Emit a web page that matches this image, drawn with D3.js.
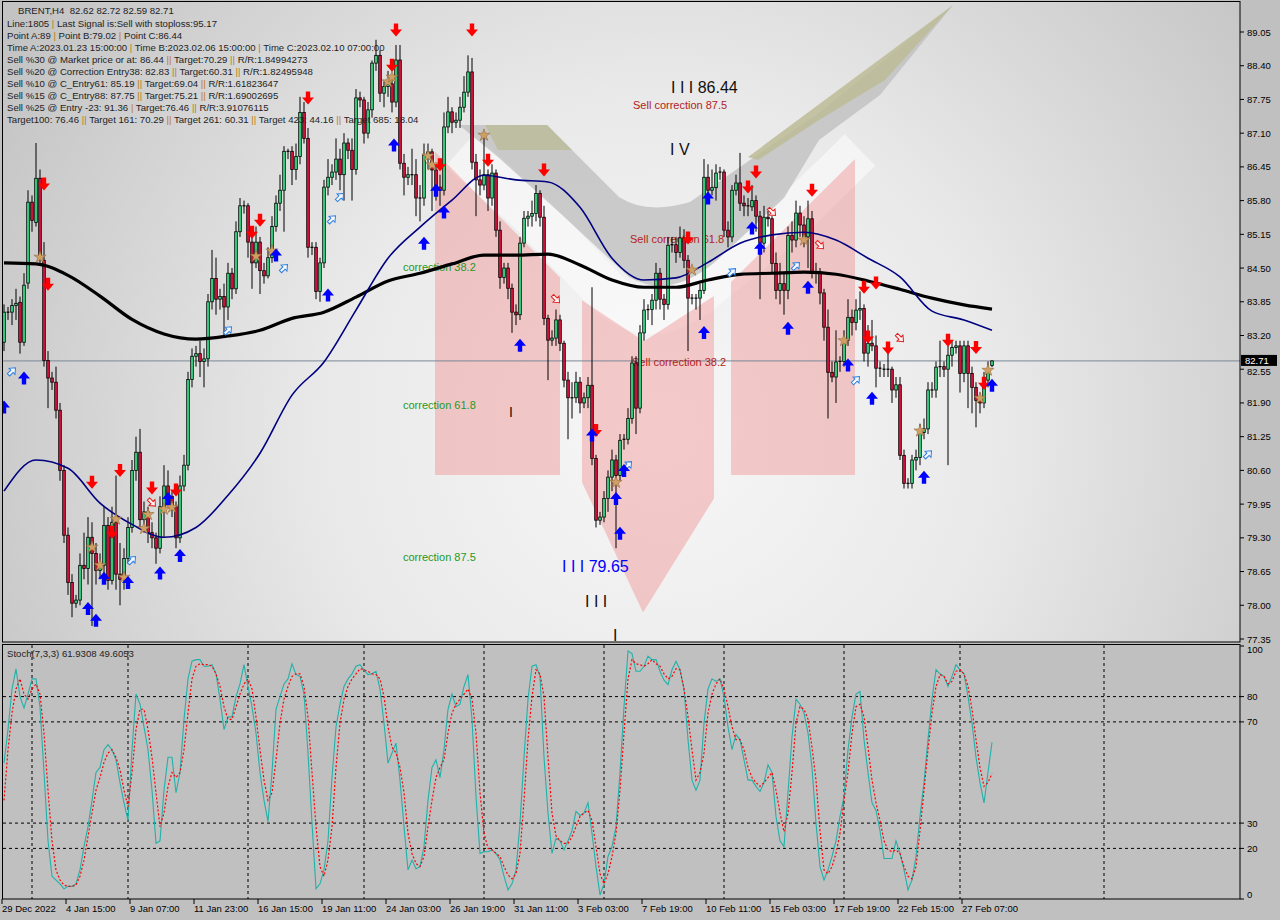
<!DOCTYPE html>
<html>
<head>
<meta charset="utf-8">
<script src="https://cdn.jsdelivr.net/npm/d3@7"></script>
<style>
html, body { margin: 0; padding: 0; background: #c0c0c0; }
svg { display: block; font-family: "Liberation Sans", Arial, sans-serif; }
text { white-space: pre; }
</style>
</head>
<body>
<svg id="chart" width="1280" height="920"></svg>
<script>
// ---- data (BRENT H4) ----
const opens = [83.07,83.65,83.65,83.78,83.84,83.07,84.21,85.77,85.38,86.23,84.65,82.72,82.38,82.30,81.76,80.60,79.35,78.44,78.04,78.10,
78.77,78.71,79.31,79.00,78.67,78.77,79.54,78.48,79.60,78.60,78.50,78.90,79.50,80.60,80.95,79.65,79.80,79.40,79.30,79.10,
79.90,80.30,80.10,79.90,79.30,80.30,80.70,82.35,82.80,82.85,82.70,82.75,83.85,84.30,83.90,83.95,83.75,84.40,84.10,85.20,
85.70,85.70,85.00,84.60,85.00,84.45,84.35,84.70,85.30,85.75,86.00,86.75,86.75,86.40,86.65,87.50,87.00,84.90,84.90,84.05,
84.60,86.06,86.25,86.35,86.60,86.30,86.91,86.77,86.40,87.78,87.74,87.10,87.55,88.45,88.60,87.87,88.00,88.05,87.70,88.51,
86.52,86.25,86.30,86.30,85.85,85.85,86.68,86.74,86.39,86.06,86.00,87.22,87.51,87.31,87.35,87.60,87.89,88.28,86.54,86.20,
86.10,86.30,85.85,86.33,85.23,84.32,84.50,84.11,83.65,83.60,84.98,85.46,85.50,85.55,85.94,85.48,83.53,83.11,83.15,83.50,
83.05,82.34,82.00,82.00,82.30,81.90,82.00,82.24,80.83,79.64,79.70,80.06,80.47,80.80,80.50,81.18,81.20,81.60,82.67,81.80,
83.25,83.69,83.70,83.88,84.40,83.90,83.80,84.94,84.95,84.80,85.08,84.65,83.92,83.90,83.92,84.07,86.25,86.00,86.05,86.33,
86.35,85.23,85.10,86.00,86.14,85.75,85.70,85.68,85.80,85.50,84.98,85.48,85.45,84.59,84.07,84.20,84.07,85.13,85.04,85.56,
85.33,85.10,85.45,84.40,84.40,84.02,83.36,82.49,82.40,82.69,82.70,83.11,83.55,83.45,83.69,83.72,82.86,83.05,83.00,82.57,
82.55,82.55,82.55,82.15,82.25,80.89,80.35,80.35,80.80,80.85,81.33,81.40,82.15,82.15,82.59,82.60,82.55,82.82,82.97,83.00,
82.47,83.00,82.47,82.20,81.95,81.90,82.34,82.62];

const highs = [83.80,83.75,83.90,84.10,83.95,84.40,86.00,85.90,86.91,86.40,85.00,82.90,82.50,82.60,81.90,80.70,79.50,78.60,78.20,79.00,
79.40,79.70,79.60,79.20,79.00,79.90,79.70,79.90,80.50,79.20,79.10,79.70,80.80,81.25,81.40,80.00,79.90,79.60,79.40,80.10,
80.70,80.60,80.20,80.00,80.50,80.90,82.50,82.95,83.00,83.10,82.95,84.00,84.85,84.70,84.10,84.20,84.60,84.50,85.40,85.85,
85.80,85.75,85.20,85.30,85.10,84.60,84.90,85.50,85.90,86.30,86.85,86.80,86.85,86.90,87.80,87.70,87.20,85.00,85.00,84.70,
86.20,86.60,86.50,87.00,86.80,87.10,87.00,87.00,87.95,87.90,87.80,87.70,88.50,88.90,88.70,88.10,88.30,88.20,88.80,88.80,
86.70,86.45,86.80,86.60,86.10,86.90,86.90,86.80,86.50,86.30,87.50,87.80,87.60,87.50,87.80,88.20,88.60,88.55,86.70,86.40,
87.05,86.40,86.50,86.40,85.40,84.60,84.60,84.20,83.80,85.10,85.60,85.60,85.80,86.10,86.00,85.70,83.60,83.30,83.70,83.60,
83.10,82.50,82.30,82.50,82.40,82.10,82.40,84.13,80.90,79.80,80.20,80.60,81.00,80.90,81.30,81.30,81.80,82.80,82.80,83.40,
83.90,83.80,84.00,84.60,84.50,84.00,85.10,85.10,85.10,85.30,85.25,84.75,84.00,84.00,84.20,86.60,86.50,86.40,86.50,86.45,
86.40,85.40,86.10,86.30,86.72,85.90,85.85,86.10,85.90,85.60,85.70,85.60,85.50,84.80,84.60,84.40,85.30,85.40,85.80,85.70,
85.50,85.80,85.60,84.60,84.50,84.10,83.70,82.70,83.30,82.80,83.30,83.90,83.70,83.90,84.05,83.80,83.40,83.50,83.20,82.70,
82.65,82.90,82.60,82.40,82.40,81.00,80.45,80.90,81.00,81.50,81.60,82.30,82.30,82.70,83.10,82.70,83.00,83.10,83.10,83.10,
83.10,83.10,82.60,82.30,82.10,82.50,82.70,82.72];

const lows = [82.90,83.50,83.40,83.50,82.85,83.00,84.10,85.20,85.30,84.60,82.60,81.80,82.15,81.60,80.40,79.20,78.20,77.77,77.95,78.00,
78.50,78.40,77.60,78.40,78.50,78.60,78.30,78.40,78.30,78.00,78.30,78.80,79.40,80.40,79.50,79.40,79.20,79.10,78.80,79.00,
79.30,79.90,79.70,79.10,79.20,80.20,80.60,82.20,82.60,82.40,82.20,82.60,83.70,83.60,83.70,83.20,83.50,83.90,84.00,85.10,
85.55,84.70,84.10,84.50,84.00,84.20,84.30,84.60,85.20,85.60,85.20,86.60,86.10,86.20,86.50,86.90,84.70,84.75,83.90,83.85,
84.50,85.90,86.10,86.20,86.00,85.80,86.60,85.80,86.30,87.60,86.90,87.00,87.40,88.30,87.70,87.60,87.80,87.50,87.60,86.40,
85.90,86.10,86.10,85.50,85.40,85.70,86.40,85.60,85.80,85.70,85.90,87.10,87.10,87.20,87.20,87.50,87.80,86.40,85.50,85.90,
86.00,85.60,85.70,85.10,84.10,84.20,83.90,83.25,83.40,83.50,84.90,85.30,85.30,85.40,85.30,83.40,82.34,83.00,83.00,82.90,
82.20,81.20,81.60,81.90,81.70,81.80,81.80,80.70,79.50,79.55,79.60,79.80,80.20,79.10,80.40,81.00,81.10,81.50,81.30,81.70,
83.10,83.50,83.40,83.70,83.70,83.50,83.70,84.80,84.60,84.70,84.50,82.90,83.80,83.70,83.50,84.00,85.90,85.90,85.80,86.20,
85.10,84.90,85.00,85.90,85.60,85.50,85.50,85.60,85.20,83.90,84.80,85.30,84.40,83.90,83.80,83.60,83.90,84.80,84.90,85.10,
84.90,84.50,84.30,84.20,83.80,83.10,81.60,82.30,81.90,82.50,82.60,83.00,83.20,83.30,83.50,82.70,82.60,82.90,82.20,82.40,
82.40,82.40,81.90,82.00,80.80,80.25,80.25,80.25,80.60,80.70,81.20,81.30,82.00,82.00,82.40,82.40,80.70,82.60,82.85,82.10,
82.30,81.80,81.70,81.43,81.70,81.80,82.20,82.59];

const closes = [83.65,83.65,83.78,83.82,83.07,84.17,85.77,85.42,86.23,84.71,82.72,82.38,82.30,81.76,80.60,79.35,78.44,78.04,78.10,78.77,
78.71,79.31,79.00,78.67,78.77,79.54,78.48,79.60,78.60,78.50,78.90,79.50,80.60,80.95,79.65,79.80,79.40,79.30,79.10,79.90,
80.30,80.10,79.90,79.30,80.30,80.70,82.35,82.80,82.85,82.70,82.75,83.85,84.30,83.90,83.95,83.75,84.40,84.10,85.20,85.70,
85.70,85.00,84.60,85.00,84.45,84.35,84.70,85.30,85.75,86.00,86.75,86.75,86.40,86.65,87.50,87.00,84.90,84.90,84.05,84.60,
86.06,86.25,86.35,86.60,86.30,86.91,86.77,86.40,87.78,87.74,87.10,87.55,88.45,88.60,87.87,88.00,88.05,87.70,88.51,86.52,
86.25,86.30,86.30,85.85,85.85,86.68,86.74,86.39,86.06,86.00,87.22,87.51,87.31,87.35,87.60,87.89,88.28,86.54,86.20,86.10,
86.30,85.85,86.33,85.23,84.32,84.50,84.11,83.65,83.60,84.98,85.46,85.50,85.55,85.94,85.48,83.53,83.11,83.15,83.50,83.05,
82.34,82.00,82.00,82.30,81.90,82.00,82.24,80.83,79.64,79.70,80.06,80.47,80.80,80.50,81.18,81.20,81.60,82.67,81.80,83.25,
83.69,83.70,83.88,84.40,83.90,83.80,84.94,84.95,84.80,85.08,84.65,83.92,83.90,83.92,84.07,86.25,86.00,86.05,86.33,86.35,
85.23,85.10,86.00,86.14,85.75,85.70,85.68,85.80,85.50,84.98,85.48,85.45,84.59,84.07,84.20,84.07,85.13,85.04,85.56,85.33,
85.10,85.45,84.40,84.40,84.02,83.36,82.49,82.40,82.69,82.70,83.11,83.55,83.45,83.69,83.72,82.86,83.05,83.00,82.57,82.55,
82.55,82.55,82.15,82.25,80.89,80.35,80.35,80.80,80.85,81.33,81.40,82.15,82.15,82.59,82.60,82.55,82.82,82.97,83.00,82.47,
83.00,82.47,82.20,81.95,81.90,82.34,82.53,82.71];

// moving averages, read every 8 bars
const maBars = [0,8,16,24,32,40,48,56,64,72,80,88,96,104,112,120,128,136,144,152,160,168,176,184,192,200,208,216,224,232,240,247];
const maFast = [80.20,80.80,80.64,79.97,79.56,79.31,79.50,80.12,80.93,82.05,82.69,83.69,84.69,85.29,85.81,86.29,86.20,86.16,85.67,84.69,
84.27,84.31,84.61,84.98,85.14,85.19,85.04,84.69,84.33,83.67,83.50,83.30];
const maSlow = [84.60,84.58,84.36,83.96,83.51,83.23,83.13,83.19,83.30,83.53,83.65,83.94,84.25,84.40,84.58,84.75,84.75,84.77,84.56,84.27,
84.13,84.13,84.27,84.38,84.40,84.42,84.38,84.25,84.09,83.92,83.79,83.71];

// Stochastic (7,3,3)
const stochK = [53.7,67,83,91,80,75.5,81,87,87,76,50,23,9,7.5,6,4,5,5,6,11.5,
20.7,28.6,39,50,52,59,61,59,55,46,38,31,59,81,77,68,59,43,22,23,
43,56,56,42,50,71,87,94,94.6,94.6,92,92,92.6,89,79,67,72,72,80,85,
92.6,84,76,65.6,50,39,30.6,50,75,80,85,87,93,88.7,88,81,57.7,30,4,6,
11.5,23,48,68,77,84,87,89,92,92.6,90.6,88.7,89,90,83,69.5,53.7,57.7,61.6,47,
28.6,11.5,15.4,12,12.8,20.7,39,52,55,48,59,75,81,76,77,84,88.7,71,40.5,18,
18.7,18.7,19.4,18,15.4,9,3.6,6,11.5,30,56,79,92,92.6,88,56,34,18,24,23,
19.4,23,27,34.6,33,34,38,26,12.8,1.6,6,16.8,20.7,28.6,50,76,98,97,90,90,
92,96,94.6,94.6,90,86.5,84.7,90.6,94,90.6,83,63,47,43,47,69.5,83,87,86,87,
80,68,59,65,63,55,47,47,44.5,42.5,46,53,50,32.6,23,20.7,42,64,79,77,
73.5,65.6,52,30,12.8,7.5,11.5,16.8,23,32.6,40.5,59,72,81,82,63,50,38,35,27,
16,16,16,23,18,11.5,3.6,7.5,16.8,32.6,46,63,79,90.6,89,88,84,88,92.6,90.6,
89,80,69.5,56,46,38,50,61.93];
const stochD = [39,59,73.5,83,87,81,79,83,85,81,65.6,43,23,11.5,7.5,5.5,5,5,5.5,9,
15.4,24.7,34,43,48,54,57.7,59,56,51,43,36.5,50,67,75,75,67,56,42,28.6,
34,44.5,50,48,50,59,73.5,87,92,93,92.6,92.6,92,89,84,76,71,71,76,81,
85,87,83,72,59,47,39,42,55,69.5,79,84,88,89,89,84,72,50,28.6,12.8,
9,15.4,28.6,52,69.5,79,84,87,89,91,90.6,90,89,88.7,87,80,68,60,57.7,52,
42,26,18,14,12.8,16.8,28.6,39,48,52,55,65.6,73.5,77,79,81,83,79,65.6,42,
26,20,19.4,18,16.8,12.8,9.5,8,10,18,39,63,80,90.6,89,80,56,34,25,23,
22,22,24.7,28.6,32.6,34,35,31,20.7,10,6,10,16.8,26,43,65.6,87,94.6,93,92.6,
92,93,94.6,93,92,89,87,88,91,90.6,83,72,59,47,50,57.7,73.5,81,85,87,
83,76,68,63,63,59,52,48,46,44.5,46,48,50,43,34,26.6,34,50,69.5,76,
75,71,60,47,27,11.5,10,12.8,18,26,39,50,65.6,76,77,72,60,47,38,31,
23,19.4,18.7,19.4,18,12.8,9,8,12.8,27,43,59,73.5,84,88.7,88,85,86,90,90.6,
89,84,75,63,52,44.5,46,49.61];

// signal markers (bar index, price)
const sellArrowBars = [10,11,22,27,29,37,43,62,64,76,97,98,109,117,121,135,148,171,186,188,202,215,216,218,221,236,243,245];
const sellArrowPrices = [86.12,84.19,80.37,79.41,80.6,80.26,80.22,85.19,85.42,87.78,88.41,89.09,86.49,89.09,86.58,86.39,81.37,85.08,86.06,86.35,86.0,84.13,83.17,84.21,82.96,83.11,82.97,82.28];
const buyArrowBars = [0,5,21,23,25,31,39,41,44,68,81,97.5,105,108,110,129,147,153,154,155,175,176,187,189,196,201,211,217,230,247];
const buyArrowPrices = [81.82,82.38,77.94,77.71,78.52,78.44,78.62,80.06,78.96,84.75,83.98,86.87,84.98,86.0,85.58,83.01,81.28,80.06,79.39,80.6,83.26,85.85,85.27,84.88,83.34,84.13,82.63,81.99,80.47,82.24];
const hollowUpBars = [2,32,56,70,82,84,156,182,198,213,231];
const hollowUpPrices = [82.51,78.87,83.3,84.5,85.44,85.87,80.7,84.42,84.54,82.34,80.91];
const hollowDownBars = [37,138,192,204,224];
const hollowDownPrices = [79.98,83.9,85.58,84.94,83.15];
const starBars = [9,22,24,28,30,35,36,40,42,63,67,96,97,106,107,120,153,172,200,210,229,244,246];
const starPrices = [84.71,79.12,78.77,79.66,78.54,79.48,79.75,79.85,79.89,84.73,84.83,88.09,88.18,86.66,86.49,87.06,80.37,84.46,85.04,83.1,81.36,81.99,82.53];

// correction zones (bar, price corners)
const zone1 = [[107.75,86.74],[139,84.32],[139,80.51],[107.75,80.51]];
const zone2 = [[144.5,83.88],[160,83.09],[177.5,83.96],[177.5,80.06],[159.75,77.86],[144.5,80.37]];
const zone3 = [[181.75,84.23],[212.75,86.6],[212.75,80.51],[181.75,80.51]];

// chart annotations: [bar, price, text, colour, size]
const notes = [
  [166.75, 87.87, "I I I 86.44", "#111111", 16],
  [157.25, 87.56, "Sell correction 87.5", "#b22222", 11],
  [166.5, 86.68, "I V", "#111111", 16],
  [156.5, 84.98, "Sell correction 61.8", "#b22222", 11],
  [157, 82.61, "Sell correction 38.2", "#b22222", 11],
  [99.75, 84.44, "correction 38.2", "#1f9a1f", 11],
  [99.75, 81.78, "correction 61.8", "#1f9a1f", 11],
  [99.75, 78.85, "correction 87.5", "#1f9a1f", 11],
  [139.5, 78.64, "I I I 79.65", "#0000ff", 16],
  [145.25, 77.96, "I I I", "#111111", 16],
  [152.25, 77.32, "I", "#111111", 16],
  [126.25, 81.62, "I", "#111111", 14]
];

const infoLines = [
  "BRENT,H4  82.62 82.72 82.59 82.71",
  "Line:1805 | Last Signal is:Sell with stoploss:95.17",
  "Point A:89 | Point B:79.02 | Point C:86.44",
  "Time A:2023.01.23 15:00:00 | Time B:2023.02.06 15:00:00 | Time C:2023.02.10 07:00:00",
  "Sell %30 @ Market price or at: 86.44 || Target:70.29 || R/R:1.84994273",
  "Sell %20 @ Correction Entry38: 82.83 || Target:60.31 || R/R:1.82495948",
  "Sell %10 @ C_Entry61: 85.19 || Target:69.04 || R/R:1.61823647",
  "Sell %15 @ C_Entry88: 87.75 || Target:75.21 || R/R:1.69002695",
  "Sell %25 @ Entry -23: 91.36 | Target:76.46 || R/R:3.91076115",
  "Target100: 76.46 || Target 161: 70.29 || Target 261: 60.31 || Target 423: 44.16 || Target 685: 18.04"
];

const priceTicks = [89.05,88.40,87.75,87.10,86.45,85.80,85.15,84.50,83.85,83.20,82.55,81.90,81.25,80.60,79.95,79.30,78.65,78.00,77.35];
const stochTicks = [100,80,70,30,20,0];
const stochLevels = [80,70,30,20];
const weekBars = [7,31,61,90,120,150,180,210,239,275];
const dateBars = [0,16,32,48,64,80,96,112,128,144,160,176,192,208,224,240];
const dateLabels = ["29 Dec 2022","4 Jan 15:00","9 Jan 07:00","11 Jan 23:00","16 Jan 15:00","19 Jan 11:00","24 Jan 03:00","26 Jan 19:00",
  "31 Jan 11:00","3 Feb 03:00","7 Feb 19:00","10 Feb 11:00","15 Feb 03:00","17 Feb 19:00","22 Feb 15:00","27 Feb 07:00"];
const lastPrice = 82.71;

// ---- layout ----
const svg = d3.select("#chart");
const axisX = 1240;
const x = d3.scaleLinear().domain([0, 247]).range([4, 992]);
const y = d3.scaleLinear().domain([77.35, 89.05]).range([639, 32]);
const ys = d3.scaleLinear().domain([0, 100]).range([899, 646]);

const defs = svg.append("defs");
const grad = defs.append("radialGradient").attr("id", "bg")
  .attr("gradientUnits", "userSpaceOnUse").attr("cx", 660).attr("cy", 430).attr("r", 760);
grad.append("stop").attr("offset", "0").attr("stop-color", "#f7f7f7");
grad.append("stop").attr("offset", "0.45").attr("stop-color", "#e9e9e9");
grad.append("stop").attr("offset", "1").attr("stop-color", "#c3c3c3");
defs.append("clipPath").attr("id", "mainClip").append("rect")
  .attr("x", 3).attr("y", 2).attr("width", axisX - 3).attr("height", 640);
defs.append("clipPath").attr("id", "stochClip").append("rect")
  .attr("x", 3).attr("y", 645).attr("width", axisX - 3).attr("height", 254);

svg.append("rect").attr("width", 1280).attr("height", 920).attr("fill", "#c0c0c0");

// main panel
const main = svg.append("g").attr("clip-path", "url(#mainClip)");
main.append("rect").attr("x", 3).attr("y", 2).attr("width", axisX - 3).attr("height", 640).attr("fill", "url(#bg)");

// logo watermark behind the chart
const wm = main.append("g");
wm.append("path")
  .attr("d", "M460,150 L530,212 L600,285 Q645,335 700,292 L780,228 L860,150")
  .attr("fill", "none").attr("stroke", "#fcfcfc").attr("stroke-width", 44).attr("opacity", 0.6);
wm.append("path")
  .attr("d", "M459,125 L547,125 L619,197 Q647,215 690,202 L750,160 L819,113 L953,5 L880,95 L819,140 L784,198 L715,262 Q670,300 629,277 L560,213 L498,157 Z")
  .attr("fill", "#bdbdbd").attr("opacity", 0.75);
wm.append("path")
  .attr("d", "M748,157 L953,5 L885,80 L819,120 L758,160 Z")
  .attr("fill", "#bcbc98").attr("opacity", 0.85);
wm.append("path")
  .attr("d", "M485,125 L547,125 L572,150 L498,150 Z")
  .attr("fill", "#bcbc98").attr("opacity", 0.8);

// correction zones
const zoneLine = d3.line().x(d => x(d[0])).y(d => y(d[1]));
[zone1, zone2, zone3].forEach(z => {
  main.append("path").attr("d", zoneLine(z) + "Z")
    .attr("fill", "#f08a8a").attr("opacity", 0.42);
});

// current price line
main.append("line").attr("x1", 3).attr("x2", axisX).attr("y1", y(lastPrice)).attr("y2", y(lastPrice))
  .attr("stroke", "#7a8899").attr("stroke-width", 1);

// annotations
notes.forEach(n => {
  main.append("text").attr("x", x(n[0])).attr("y", y(n[1]))
    .attr("font-size", n[4]).attr("fill", n[3]).text(n[2]);
});

// candles
const candles = main.append("g");
closes.forEach((c, i) => {
  const o = opens[i];
  const cx = x(i);
  candles.append("line").attr("x1", cx).attr("x2", cx)
    .attr("y1", y(highs[i])).attr("y2", y(lows[i]))
    .attr("stroke", "#000").attr("stroke-width", 1);
  const top = y(Math.max(o, c));
  const h = Math.abs(y(o) - y(c));
  if (h < 1.2) {
    candles.append("line").attr("x1", cx - 1.5).attr("x2", cx + 1.5)
      .attr("y1", top).attr("y2", top).attr("stroke", "#000").attr("stroke-width", 1.2);
  } else {
    candles.append("rect").attr("x", cx - 1.3).attr("y", top).attr("width", 2.6).attr("height", h)
      .attr("fill", c >= o ? "#3ddc84" : "#dc143c").attr("stroke", "#000").attr("stroke-width", 0.8);
  }
});

// moving averages
const maLine = d3.line().curve(d3.curveMonotoneX).x((d, k) => x(maBars[k])).y(d => y(d));
main.append("path").attr("d", maLine(maSlow)).attr("fill", "none")
  .attr("stroke", "#000").attr("stroke-width", 3.2);
main.append("path").attr("d", maLine(maFast)).attr("fill", "none")
  .attr("stroke", "#000080").attr("stroke-width", 1.6);

// markers
const downArrow = "M-2.2,-6.5 L2.2,-6.5 L2.2,-0.5 L6,-0.5 L0,6.5 L-6,-0.5 L-2.2,-0.5 Z";
const upArrow = "M-2.2,6.5 L2.2,6.5 L2.2,0.5 L6,0.5 L0,-6.5 L-6,0.5 L-2.2,0.5 Z";
const hollow = "M-1.6,5 L1.6,5 L1.6,0 L4.2,0 L0,-5 L-4.2,0 L-1.6,0 Z";
const marks = main.append("g");
starBars.forEach((b, k) => {
  marks.append("path").attr("d", d3.symbol(d3.symbolStar, 46)())
    .attr("transform", `translate(${x(b)},${y(starPrices[k])})`)
    .attr("fill", "#cf9f63").attr("stroke", "#8a6030").attr("stroke-width", 0.5);
});
hollowUpBars.forEach((b, k) => {
  marks.append("path").attr("d", hollow)
    .attr("transform", `translate(${x(b)},${y(hollowUpPrices[k])}) rotate(45)`)
    .attr("fill", "#f4f8ff").attr("stroke", "#2f7fe0").attr("stroke-width", 1);
});
hollowDownBars.forEach((b, k) => {
  marks.append("path").attr("d", hollow)
    .attr("transform", `translate(${x(b)},${y(hollowDownPrices[k])}) rotate(135)`)
    .attr("fill", "#fff4f4").attr("stroke", "#e02020").attr("stroke-width", 1);
});
sellArrowBars.forEach((b, k) => {
  marks.append("path").attr("d", downArrow)
    .attr("transform", `translate(${x(b)},${y(sellArrowPrices[k])})`).attr("fill", "#ff0000");
});
buyArrowBars.forEach((b, k) => {
  marks.append("path").attr("d", upArrow)
    .attr("transform", `translate(${x(b)},${y(buyArrowPrices[k])})`).attr("fill", "#0000ff");
});

// info block
infoLines.forEach((s, k) => {
  const t = svg.append("text").attr("x", k === 0 ? 18 : 7).attr("y", k === 0 ? 14 : 15 + k * 12)
    .attr("font-size", 9.6);
  s.split(/(\|\|?)/).forEach(part => {
    if (part === "") return;
    t.append("tspan").text(part).attr("fill", part[0] === "|" ? "#c07a10" : "#1e1e1e");
  });
});

// stochastic panel
const st = svg.append("g");
st.append("rect").attr("x", 3).attr("y", 645).attr("width", axisX - 3).attr("height", 254).attr("fill", "#c0c0c0");
const stc = st.append("g").attr("clip-path", "url(#stochClip)");
stochLevels.forEach(v => {
  stc.append("line").attr("x1", 3).attr("x2", axisX).attr("y1", ys(v)).attr("y2", ys(v))
    .attr("stroke", "#000").attr("stroke-dasharray", "3,3");
});
weekBars.forEach(b => {
  stc.append("line").attr("x1", x(b)).attr("x2", x(b)).attr("y1", 645).attr("y2", 899)
    .attr("stroke", "#000").attr("stroke-dasharray", "3,3");
});
const stLine = d3.line().x((d, i) => x(i)).y(d => ys(d));
stc.append("path").attr("d", stLine(stochK)).attr("fill", "none")
  .attr("stroke", "#20b2aa").attr("stroke-width", 1.1);
stc.append("path").attr("d", stLine(stochD)).attr("fill", "none")
  .attr("stroke", "#ff0000").attr("stroke-width", 1.2).attr("stroke-dasharray", "2,2");
svg.append("text").attr("x", 7).attr("y", 657).attr("font-size", 9.6).attr("fill", "#1e1e1e")
  .text("Stoch(7,3,3) 61.9308 49.6053");

// frames
svg.append("rect").attr("x", 2.5).attr("y", 1.5).attr("width", axisX - 2.5).attr("height", 640.5)
  .attr("fill", "none").attr("stroke", "#000");
svg.append("rect").attr("x", 2.5).attr("y", 644.5).attr("width", axisX - 2.5).attr("height", 254.5)
  .attr("fill", "none").attr("stroke", "#000");

// right price axis
priceTicks.forEach(v => {
  const ty = y(v);
  svg.append("line").attr("x1", axisX).attr("x2", axisX + 4).attr("y1", ty).attr("y2", ty).attr("stroke", "#000");
  // the 82.55 label sits just under the current-price box, nudge it clear
  const dy = Math.abs(v - lastPrice) < 0.3 ? 5.5 : 3.5;
  svg.append("text").attr("x", axisX + 7).attr("y", ty + dy).attr("font-size", 9.5).attr("fill", "#000")
    .text(v.toFixed(2));
});
svg.append("rect").attr("x", axisX + 1).attr("y", y(lastPrice) - 6).attr("width", 36).attr("height", 11).attr("fill", "#000");
svg.append("text").attr("x", axisX + 5).attr("y", y(lastPrice) + 3).attr("font-size", 9.5).attr("fill", "#fff")
  .text(lastPrice.toFixed(2));

// stochastic axis
stochTicks.forEach(v => {
  svg.append("line").attr("x1", axisX).attr("x2", axisX + 4).attr("y1", ys(v)).attr("y2", ys(v)).attr("stroke", "#000");
  svg.append("text").attr("x", axisX + 7).attr("y", ys(v) + (v === 100 ? 7 : v === 0 ? -1 : 3.5))
    .attr("font-size", 9.5).attr("fill", "#000").text(v);
});

// date axis
dateBars.forEach((b, k) => {
  const tx = x(b) - 2;
  svg.append("line").attr("x1", tx).attr("x2", tx).attr("y1", 899).attr("y2", 904).attr("stroke", "#000");
  svg.append("text").attr("x", tx).attr("y", 912).attr("font-size", 9.5).attr("fill", "#000").text(dateLabels[k]);
});
</script>
</body>
</html>
